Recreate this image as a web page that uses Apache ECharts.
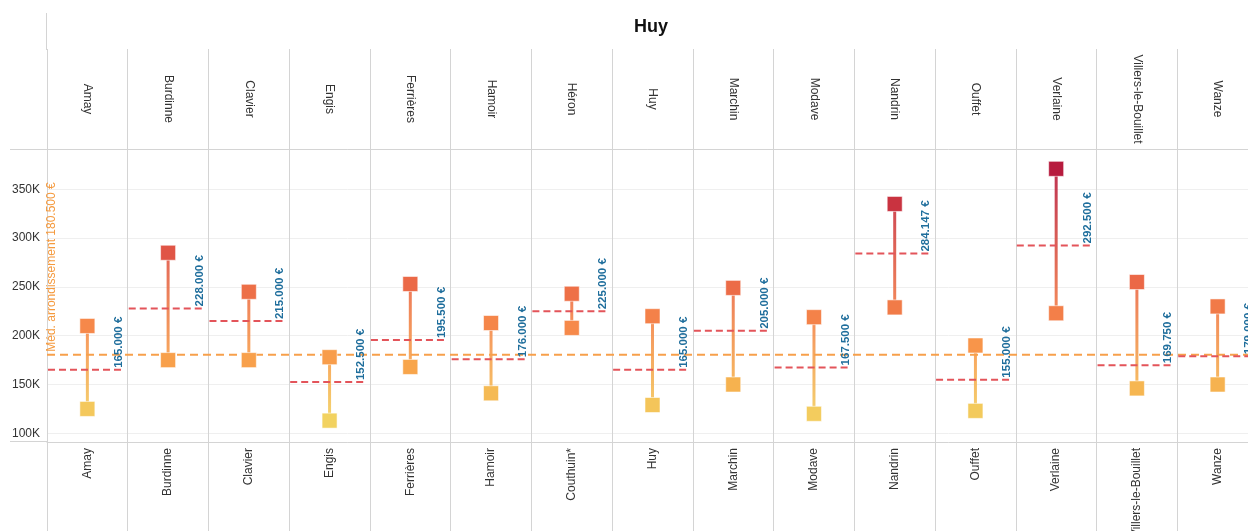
<!DOCTYPE html>
<html>
<head>
<meta charset="utf-8">
<script src="https://cdn.jsdelivr.net/npm/echarts@6/dist/echarts.min.js"></script>
<style>
  html, body { margin: 0; padding: 0; background: #ffffff; }
  #chart { width: 1248px; height: 531px; }
</style>
</head>
<body>
<div id="chart"></div>
<script>
// Communes of the Huy district (header labels) and their footer labels
const communes = ['Amay', 'Burdinne', 'Clavier', 'Engis', 'Ferrières', 'Hamoir', 'Héron', 'Huy',
  'Marchin', 'Modave', 'Nandrin', 'Ouffet', 'Verlaine', 'Villers-le-Bouillet', 'Wanze'];
const footerLabels = ['Amay', 'Burdinne', 'Clavier', 'Engis', 'Ferrières', 'Hamoir', 'Couthuin*', 'Huy',
  'Marchin', 'Modave', 'Nandrin', 'Ouffet', 'Verlaine', 'Villers-le-Bouillet', 'Wanze'];

// Prices in euros
const maxPrice = [210000, 285000, 245000, 178000, 253000, 213000, 243000, 220000,
  249000, 219000, 335000, 190000, 371000, 255000, 230000];
const minPrice = [125000, 175000, 175000, 113000, 168000, 141000, 208000, 129000,
  150000, 120000, 229000, 123000, 223000, 146000, 150000];
const medianPrice = [165000, 228000, 215000, 152500, 195500, 176000, 225000, 165000,
  205000, 167500, 284147, 155000, 292500, 169750, 179000];
const districtMedian = 180500;

// Value axis
const yTickValues = [100000, 150000, 200000, 250000, 300000, 350000];
const yMin = 91100;
const yMax = 391300;

// Colour ramp for prices
const palette = ['#f2d461', '#f4c45a', '#f6b24f', '#f8a34b', '#f8954a', '#f6884a', '#f17a48',
  '#ec6b47', '#e65e47', '#de5246', '#d54543', '#cb3740', '#c1283f', '#b71b3e'];
const colorMin = 110000;
const colorMax = 370000;

const FONT = '"Liberation Sans", Arial, Helvetica, sans-serif';
const GRID_LINE = '#d4d4d4';

function priceColor(v) {
  const t = Math.min(1, Math.max(0, (v - colorMin) / (colorMax - colorMin)));
  return echarts.color.lerp(t, palette);
}
function euro(v) {
  return String(Math.round(v)).replace(/\B(?=(\d{3})+(?!\d))/g, '.') + ' €';
}

const chart = echarts.init(document.getElementById('chart'), null, { renderer: 'canvas' });

const option = {
  animation: false,
  backgroundColor: '#ffffff',
  title: {
    text: 'Huy',
    left: 634,
    top: 18,
    padding: 0,
    textStyle: { fontFamily: FONT, fontSize: 18, fontWeight: 'bold', color: '#111111' }
  },
  grid: { left: 47, right: -10, top: 149, bottom: 89, containLabel: false, outerBoundsMode: 'none' },
  xAxis: [
    {
      type: 'category',
      position: 'bottom',
      data: footerLabels,
      boundaryGap: true,
      axisLine: { show: true, lineStyle: { color: GRID_LINE, width: 1 } },
      axisTick: { show: true, interval: 0, length: 90, lineStyle: { color: GRID_LINE } },
      splitLine: { show: true, interval: 0, lineStyle: { color: GRID_LINE, width: 1 } },
      axisLabel: {
        interval: 0, rotate: 90, margin: 6,
        fontFamily: FONT, fontSize: 12, color: '#333333'
      }
    },
    {
      type: 'category',
      position: 'top',
      data: communes,
      boundaryGap: true,
      axisLine: { show: true, lineStyle: { color: GRID_LINE, width: 1 } },
      axisTick: { show: true, interval: 0, length: 100, lineStyle: { color: GRID_LINE } },
      splitLine: { show: false },
      axisLabel: {
        interval: 0, rotate: 90, margin: 50, align: 'center', verticalAlign: 'middle',
        fontFamily: FONT, fontSize: 12, color: '#333333'
      }
    }
  ],
  yAxis: {
    type: 'value',
    min: yMin,
    max: yMax,
    splitNumber: 6,
    axisLine: { show: false },
    axisTick: { show: false },
    splitLine: { show: true, lineStyle: { color: '#efefef', width: 1 } },
    axisLabel: {
      margin: 7,
      fontFamily: FONT, fontSize: 12, color: '#333333',
      formatter: v => (yTickValues.indexOf(v) >= 0 ? (v / 1000) + 'K' : '')
    }
  },
  graphic: [
    { type: 'line', silent: true, shape: { x1: 46.5, y1: 13, x2: 46.5, y2: 50 }, style: { stroke: GRID_LINE, lineWidth: 1 } },
    { type: 'line', silent: true, shape: { x1: 10, y1: 149.5, x2: 47, y2: 149.5 }, style: { stroke: GRID_LINE, lineWidth: 1 } },
    { type: 'line', silent: true, shape: { x1: 10, y1: 441.5, x2: 47, y2: 441.5 }, style: { stroke: GRID_LINE, lineWidth: 1 } }
  ],
  series: [
    // min-to-max range stems
    {
      type: 'custom',
      name: 'range',
      z: 2,
      xAxisIndex: 0,
      data: communes.map((c, i) => [i, minPrice[i], maxPrice[i]]),
      encode: { x: 0, y: [1, 2] },
      renderItem: function (params, api) {
        const i = api.value(0);
        const lo = api.coord([i, api.value(1)]);
        const hi = api.coord([i, api.value(2)]);
        const grad = new echarts.graphic.LinearGradient(lo[0], lo[1], hi[0], hi[1], [
          { offset: 0, color: priceColor(api.value(1)) },
          { offset: 1, color: priceColor(api.value(2)) }
        ], true);
        return {
          type: 'line',
          shape: { x1: lo[0], y1: lo[1], x2: hi[0], y2: hi[1] },
          style: { stroke: grad, lineWidth: 3, opacity: 0.9 }
        };
      }
    },
    // district median line with its label
    {
      type: 'custom',
      name: 'district median',
      z: 3,
      xAxisIndex: 0,
      data: [[0, districtMedian]],
      encode: { x: 0, y: 1 },
      renderItem: function (params, api) {
        const cs = params.coordSys;
        const p = api.coord([0, api.value(1)]);
        return {
          type: 'group',
          children: [
            {
              type: 'line',
              shape: { x1: cs.x, y1: p[1], x2: cs.x + cs.width, y2: p[1] },
              style: { stroke: '#f7a04b', lineWidth: 2, lineDash: [8, 5] }
            },
            {
              type: 'text',
              x: cs.x + 5, y: p[1] - 3,
              rotation: Math.PI / 2,
              style: {
                text: 'Méd. arrondissement ' + euro(api.value(1)),
                fill: '#f59a3e',
                font: '12px ' + FONT,
                align: 'left', verticalAlign: 'middle'
              }
            }
          ]
        };
      }
    },
    // commune medians
    {
      type: 'custom',
      name: 'median',
      z: 4,
      xAxisIndex: 0,
      data: communes.map((c, i) => [i, medianPrice[i]]),
      encode: { x: 0, y: 1 },
      renderItem: function (params, api) {
        const i = api.value(0);
        const v = api.value(1);
        const p = api.coord([i, v]);
        const bw = api.size([1, 0])[0];
        const left = p[0] - bw / 2;
        const right = p[0] + bw / 2;
        return {
          type: 'group',
          children: [
            {
              type: 'line',
              shape: { x1: left + 1, y1: p[1], x2: right - 3, y2: p[1] },
              style: { stroke: '#e3545a', lineWidth: 2, lineDash: [7, 4] }
            },
            {
              type: 'text',
              z2: 20,
              x: right - 9, y: p[1] - 2,
              rotation: Math.PI / 2,
              style: {
                text: euro(v),
                fill: '#1f6e9c',
                font: 'bold 11.5px ' + FONT,
                align: 'left', verticalAlign: 'middle'
              }
            }
          ]
        };
      }
    },
    // min and max squares
    {
      type: 'scatter',
      name: 'prices',
      z: 5,
      xAxisIndex: 0,
      symbol: 'rect',
      symbolSize: 15,
      data: minPrice.map((v, i) => [i, v]).concat(maxPrice.map((v, i) => [i, v])),
      itemStyle: {
        color: p => priceColor(p.value[1]),
        borderColor: 'rgba(255,255,255,0.55)',
        borderWidth: 1,
        opacity: 1
      }
    }
  ]
};

chart.setOption(option);
</script>
</body>
</html>
